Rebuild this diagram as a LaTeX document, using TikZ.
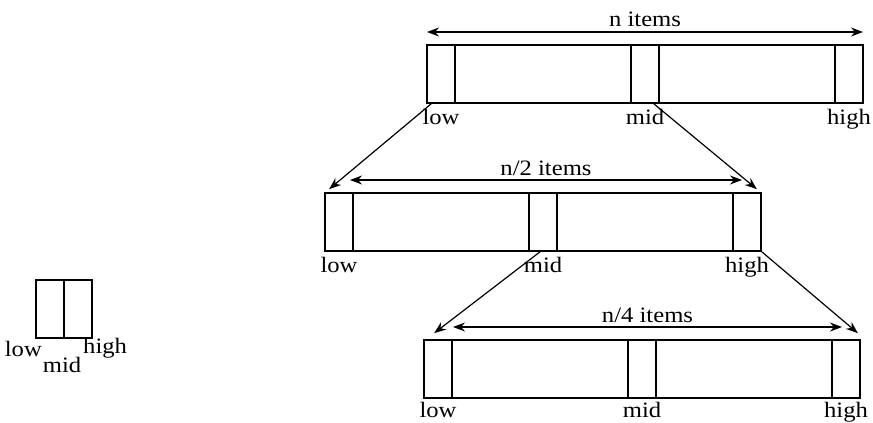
\documentclass[tikz,border=0pt]{standalone}
\usepackage{fontspec}
\setmainfont{Liberation Serif}[FakeStretch=1.12]
\usetikzlibrary{arrows.meta,positioning}
\tikzset{
  arraybox/.style={draw,line width=1.7pt,minimum height=58pt,inner sep=0pt},
  cellbox/.style={draw,line width=1.7pt,minimum width=28pt,minimum height=58pt,inner sep=0pt},
  spanarrow/.style={{Stealth[length=12pt,width=9pt]}-{Stealth[length=12pt,width=9pt]},line width=1.2pt},
  halfarrow/.style={-{Stealth[length=12pt,width=9pt]},line width=1.2pt},
  txt/.style={font=\fontsize{22}{24}\selectfont,inner sep=0pt}
}

\begin{document}
\begin{tikzpicture}[
    x=1pt,y=-1pt,
    idx/.style={txt,anchor=north,yshift=-5pt},
    count/.style={txt,anchor=base,yshift=5pt}
  ]
    \useasboundingbox (0,0) rectangle (873,423);

    % n items
    \node[arraybox,minimum width=436pt] (top) at (645,74) {};
    \node[cellbox,anchor=west] (toplow) at (top.west) {};
    \node[cellbox] (topmid) at (top.center) {};
    \node[cellbox,anchor=east] (tophigh) at (top.east) {};
    \node[idx] (toplowtxt) at (toplow.south) {low};
    \node[idx] (topmidtxt) at (topmid.south) {mid};
    \node[idx] (tophightxt) at (tophigh.south) {high};
    \coordinate (topspanl) at (427,32);
    \coordinate (topspanr) at (863,32);
    \draw[spanarrow] (topspanl) -- node[count] (topcount) {n items} (topspanr);

    % n/2 items
    \node[arraybox,minimum width=436pt] (half) at (543,222) {};
    \node[cellbox,anchor=west] (halflow) at (half.west) {};
    \node[cellbox] (halfmid) at (half.center) {};
    \node[cellbox,anchor=east] (halfhigh) at (half.east) {};
    \node[idx] (halflowtxt) at (halflow.south) {low};
    \node[idx] (halfmidtxt) at (halfmid.south) {mid};
    \node[idx] (halfhightxt) at (halfhigh.south) {high};
    \coordinate (halfspanl) at (350,180);
    \coordinate (halfspanr) at (742,180);
    \draw[spanarrow] (halfspanl) -- node[count] (halfcount) {n/2 items} (halfspanr);

    % n/4 items
    \node[arraybox,minimum width=436pt] (quart) at (642,369) {};
    \node[cellbox,anchor=west] (quartlow) at (quart.west) {};
    \node[cellbox] (quartmid) at (quart.center) {};
    \node[cellbox,anchor=east] (quarthigh) at (quart.east) {};
    \node[idx,yshift=2pt] (quartlowtxt) at (quartlow.south) {low};
    \node[idx,yshift=2pt] (quartmidtxt) at (quartmid.south) {mid};
    \node[idx,yshift=2pt] (quarthightxt) at (quarthigh.south) {high};
    \coordinate (quartspanl) at (453,327);
    \coordinate (quartspanr) at (842,327);
    \draw[spanarrow] (quartspanl) -- node[count] (quartcount) {n/4 items} (quartspanr);

    % halving steps
    \draw[halfarrow] ([xshift=5pt]toplow.south west) -- ([xshift=5pt,yshift=3pt]halflow.north west);
    \draw[halfarrow] ([xshift=-6pt]topmid.south east) -- ([xshift=-5pt,yshift=3pt]halfhigh.north east);
    \draw[halfarrow] ([xshift=-3pt]halfmid.south) -- ([xshift=11pt,yshift=6pt]quartlow.north west);
    \draw[halfarrow] (halfhigh.south east) -- ([xshift=-3pt,yshift=6pt]quarthigh.north east);

    % two items left
    \node[cellbox] (tinylow) at (50,309) {};
    \node[cellbox] (tinyhigh) at (78,309) {};
    \node[txt,anchor=base east] (tinylowtxt) at (42,356) {low};
    \node[txt,anchor=base] (tinymidtxt) at (62,372) {mid};
    \node[txt,anchor=base west] (tinyhightxt) at (83,353) {high};
\end{tikzpicture}
\end{document}
